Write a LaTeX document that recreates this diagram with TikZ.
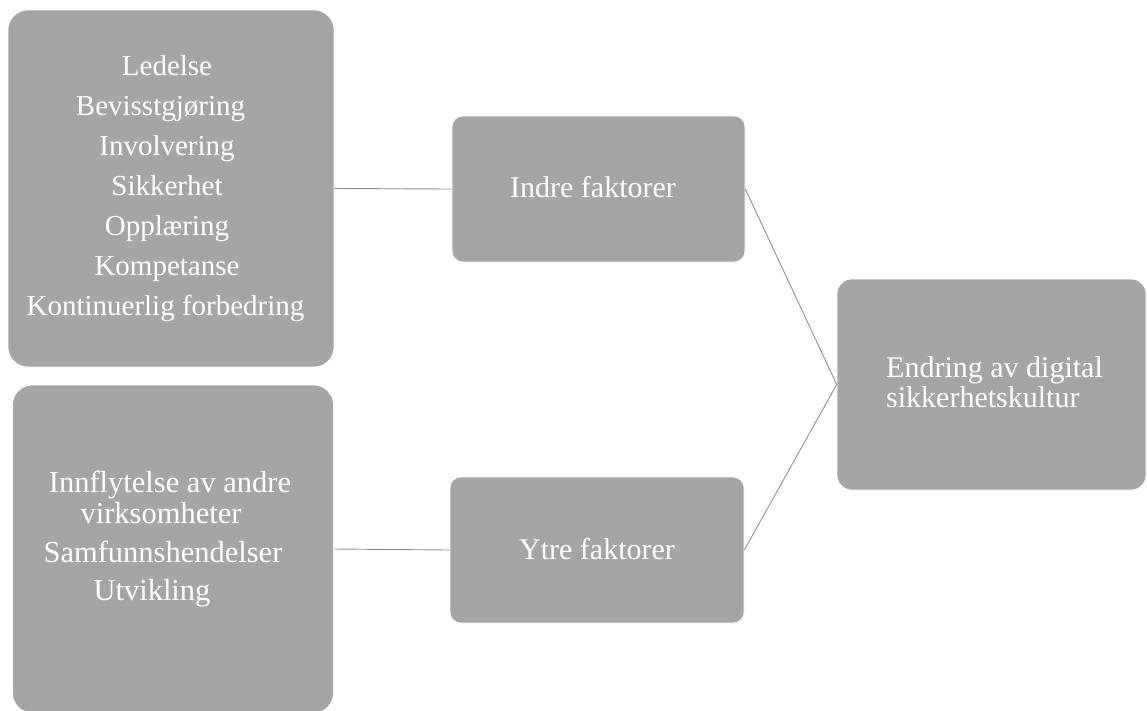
\documentclass[tikz,border=0pt]{standalone}
\usepackage{fontspec}
\setmainfont{Liberation Serif}
\begin{document}
\begin{tikzpicture}[x=1pt,y=-1pt,
  box/.style={draw=white, line width=0.6pt, fill=boxgray, rounded corners=#1, inner sep=0pt},
  box/.default=12pt,
  txt/.style={text=white, inner sep=0pt},
  link/.style={draw=linegray, line width=0.9pt}]
\definecolor{boxgray}{HTML}{A5A5A5}
\definecolor{linegray}{HTML}{8E8E8E}
\useasboundingbox (0,0) rectangle (1147,710);
\clip (0,0) rectangle (1147,710);

% boxes
\node[box=20pt, minimum width=326pt, minimum height=357pt] (inner) at (171,188.5) {};
\node[box=20pt, minimum width=321pt, minimum height=328pt] (outer) at (173,549) {};
\node[box=11pt, minimum width=293pt, minimum height=146pt] (indre) at (598.5,189) {};
\node[box=11pt, minimum width=294pt, minimum height=146pt] (ytre) at (597,550) {};
\node[box=15pt, minimum width=309pt, minimum height=211pt] (endring) at (991.5,384.5) {};

% connectors
\draw[link] (inner.east) -- (indre.west);
\draw[link] (outer.east) -- (ytre.west);
\draw[link] (indre.east) -- (endring.west);
\draw[link] (ytre.east) -- (endring.west);

% texts (base anchor of a multi-line node sits on its last line)
\node[txt, anchor=base, align=center, font=\fontsize{29}{40}\selectfont] (tinner) at (167,315)
  {Ledelse\\Bevisstgjøring\rule{13pt}{0pt}\\Involvering\\Sikkerhet\\Opplæring\\Kompetanse\\Kontinuerlig forbedring\rule{3pt}{0pt}};
\node[txt, anchor=base, font=\fontsize{30.5}{31}\selectfont] (touter1) at (170,492) {Innflytelse av andre};
\node[txt, anchor=base, font=\fontsize{30.5}{31}\selectfont] (touter2) at (161,523) {virksomheter};
\node[txt, anchor=base, font=\fontsize{30.5}{31}\selectfont] (touter3) at (163,562) {Samfunnshendelser};
\node[txt, anchor=base, font=\fontsize{30.5}{31}\selectfont] (touter4) at (152,600) {Utvikling};
\node[txt, anchor=base, font=\fontsize{30}{31}\selectfont] (tindre) at (593,197) {Indre faktorer};
\node[txt, anchor=base, font=\fontsize{30}{31}\selectfont] (tytre) at (597,559) {Ytre faktorer};
\node[txt, anchor=base west, font=\fontsize{30}{31}\selectfont] (tend1) at (886,377) {Endring av digital};
\node[txt, anchor=base west, font=\fontsize{30}{31}\selectfont] (tend2) at (886,407) {sikkerhetskultur};
\end{tikzpicture}
\end{document}
